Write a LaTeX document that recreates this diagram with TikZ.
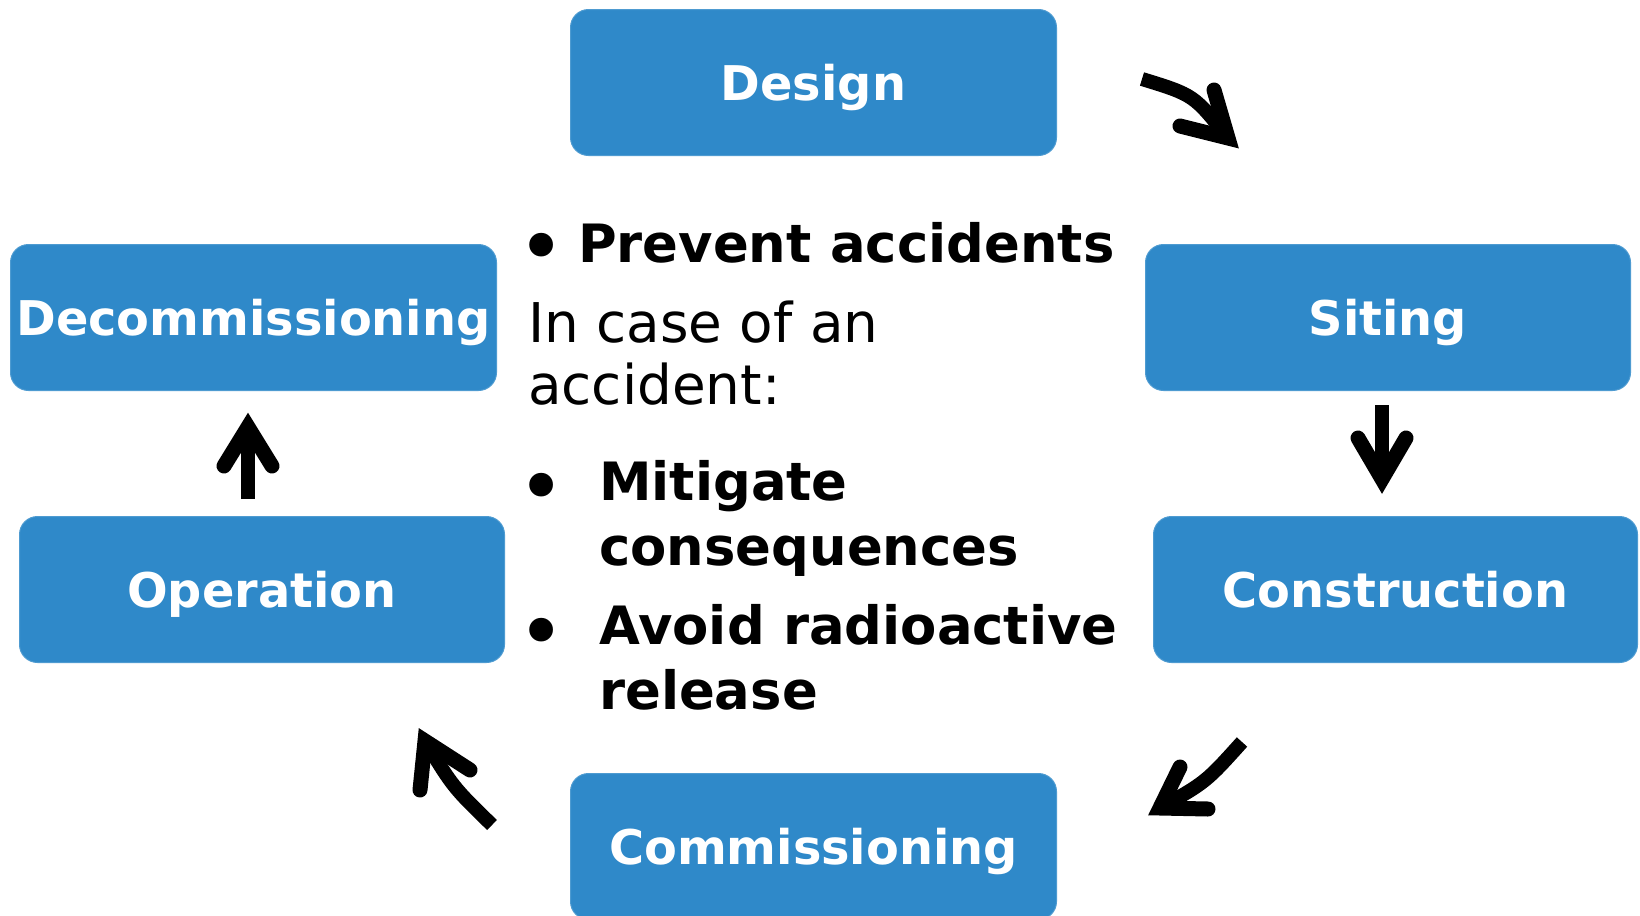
\documentclass[tikz,border=0pt]{standalone}
\usepackage{fontspec}
\setmainfont{DejaVu Sans}
\definecolor{boxblue}{HTML}{2F89C9}
\begin{document}
\begin{tikzpicture}[x=1bp,y=-1bp,
 stage/.style={rectangle, rounded corners=18bp, fill=boxblue, draw=boxblue!85!white, line width=1bp, text=white, font=\fontsize{48}{58}\selectfont\bfseries, minimum height=146bp, inner sep=0pt, text height=35bp, text depth=0pt, anchor=north west},
 body/.style={anchor=base west, inner sep=0pt, font=\fontsize{55}{66}\selectfont},
 boldline/.style={anchor=base west, inner sep=0pt, font=\fontsize{53}{64}\selectfont\bfseries},
 bulletmark/.style={anchor=center, inner sep=0pt, font=\fontsize{82}{90}\selectfont},
 shaft/.style={line width=14bp},
 head/.style={line width=15bp, line cap=round, line join=miter}]
\useasboundingbox (0,0) rectangle (1640,915);
\begin{scope}
\clip (0,0) rectangle (1640,915);
\node[stage, minimum width=486bp] (design) at (570,9) {Design};
\node[stage, minimum width=485bp] (siting) at (1145,244) {Siting};
\node[stage, minimum width=486bp] (decom) at (10,244) {Decommissioning};
\node[stage, minimum width=485bp] (operation) at (19,516) {Operation};
\node[stage, minimum width=484bp] (construction) at (1153,516) {Construction};
\node[stage, minimum width=486bp] (commissioning) at (570,773) {Commissioning};
\end{scope}

\node[bulletmark] (b1) at (542,254) {•};
\node[boldline] (prevent) at (578,262) {Prevent accidents};
\node[body] (case1) at (528,342) {In case of an};
\node[body] (case2) at (528,404) {accident:};
\node[bulletmark] (b2) at (542,494) {•};
\node[boldline] (mit1) at (599,500) {Mitigate};
\node[boldline] (mit2) at (599,565) {consequences};
\node[bulletmark] (b3) at (542,639) {•};
\node[boldline] (avo1) at (599,644) {Avoid radioactive};
\node[boldline] (avo2) at (599,709) {release};

% arrow 1: Design -> Siting
\coordinate (a1s) at (1142,79);
\coordinate (a1t) at (1228,138);
\coordinate (a1l) at (1214,90);
\coordinate (a1r) at (1180,126);
\draw[shaft] (a1s) .. controls (1194,95) .. (a1t);
\draw[head] (a1l) -- (a1t) -- (a1r);
% arrow 2: Siting -> Construction
\coordinate (a2s) at (1382,405);
\coordinate (a2t) at (1382,479);
\coordinate (a2l) at (1358,438);
\coordinate (a2r) at (1406,438);
\draw[shaft] (a2s) -- (a2t);
\draw[head] (a2l) -- (a2t) -- (a2r);
% arrow 3: Construction -> Commissioning
\coordinate (a3s) at (1242,742);
\coordinate (a3t) at (1160,808);
\coordinate (a3l) at (1180,767);
\coordinate (a3r) at (1208,809);
\draw[shaft] (a3s) .. controls (1206,782) .. (a3t);
\draw[head] (a3l) -- (a3t) -- (a3r);
% arrow 4: Commissioning -> Operation
\coordinate (a4s) at (492,825);
\coordinate (a4t) at (425,741);
\coordinate (a4l) at (470,770);
\coordinate (a4r) at (420,790);
\draw[shaft] (a4s) .. controls (453,787) .. (a4t);
\draw[head] (a4l) -- (a4t) -- (a4r);
% arrow 5: Operation -> Decommissioning
\coordinate (a5s) at (248,499);
\coordinate (a5t) at (248,427);
\coordinate (a5l) at (224,466);
\coordinate (a5r) at (272,466);
\draw[shaft] (a5s) -- (a5t);
\draw[head] (a5l) -- (a5t) -- (a5r);
\end{tikzpicture}
\end{document}
